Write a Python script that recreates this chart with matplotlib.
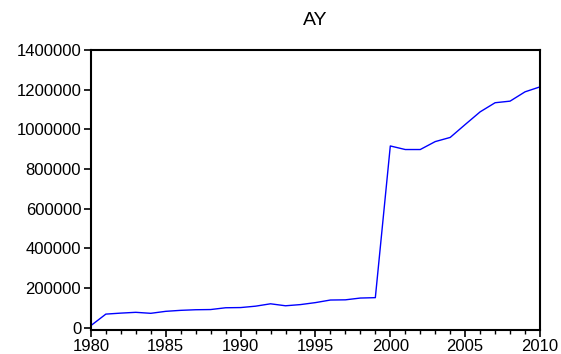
import matplotlib
matplotlib.use('Agg')
import matplotlib.pyplot as plt
from matplotlib.ticker import MultipleLocator, FuncFormatter

# --- data ---
years = list(range(1980, 2011))
ay = [10000, 68000, 73000, 77000, 72000, 82000, 87000, 90000, 91000, 100000,
      101000, 108000, 120000, 110000, 116000, 126000, 139000, 140000, 149000, 151000,
      916000, 898000, 898000, 938000, 959000, 1024000, 1088000, 1134000, 1142000, 1189000,
      1214000]

plt.rcParams['font.family'] = ['Liberation Sans', 'DejaVu Sans']

fig = plt.figure(figsize=(5.61, 3.54), dpi=100)
ax = fig.add_axes([0.162, 0.069, 0.8006, 0.7898])

ax.plot(years, ay, color='#0000ff', linewidth=1.0)

ax.set_xlim(1980, 2010)
ax.set_ylim(-10000, 1400000)
ax.xaxis.set_major_locator(MultipleLocator(5))
ax.xaxis.set_minor_locator(MultipleLocator(1))
ax.set_yticks(range(0, 1400001, 200000))
ax.yaxis.set_major_formatter(FuncFormatter(lambda v, p: '%d' % v))

ax.tick_params(axis='both', which='major', direction='out', length=5, width=1.2,
               labelsize=12, pad=2, right=False, top=False)
ax.tick_params(axis='x', which='minor', direction='out', length=3, width=1.0)
for s in ax.spines.values():
    s.set_linewidth(1.5)

ax.set_title('AY', fontsize=14, pad=18)

fig.savefig('out.png', dpi=100)
